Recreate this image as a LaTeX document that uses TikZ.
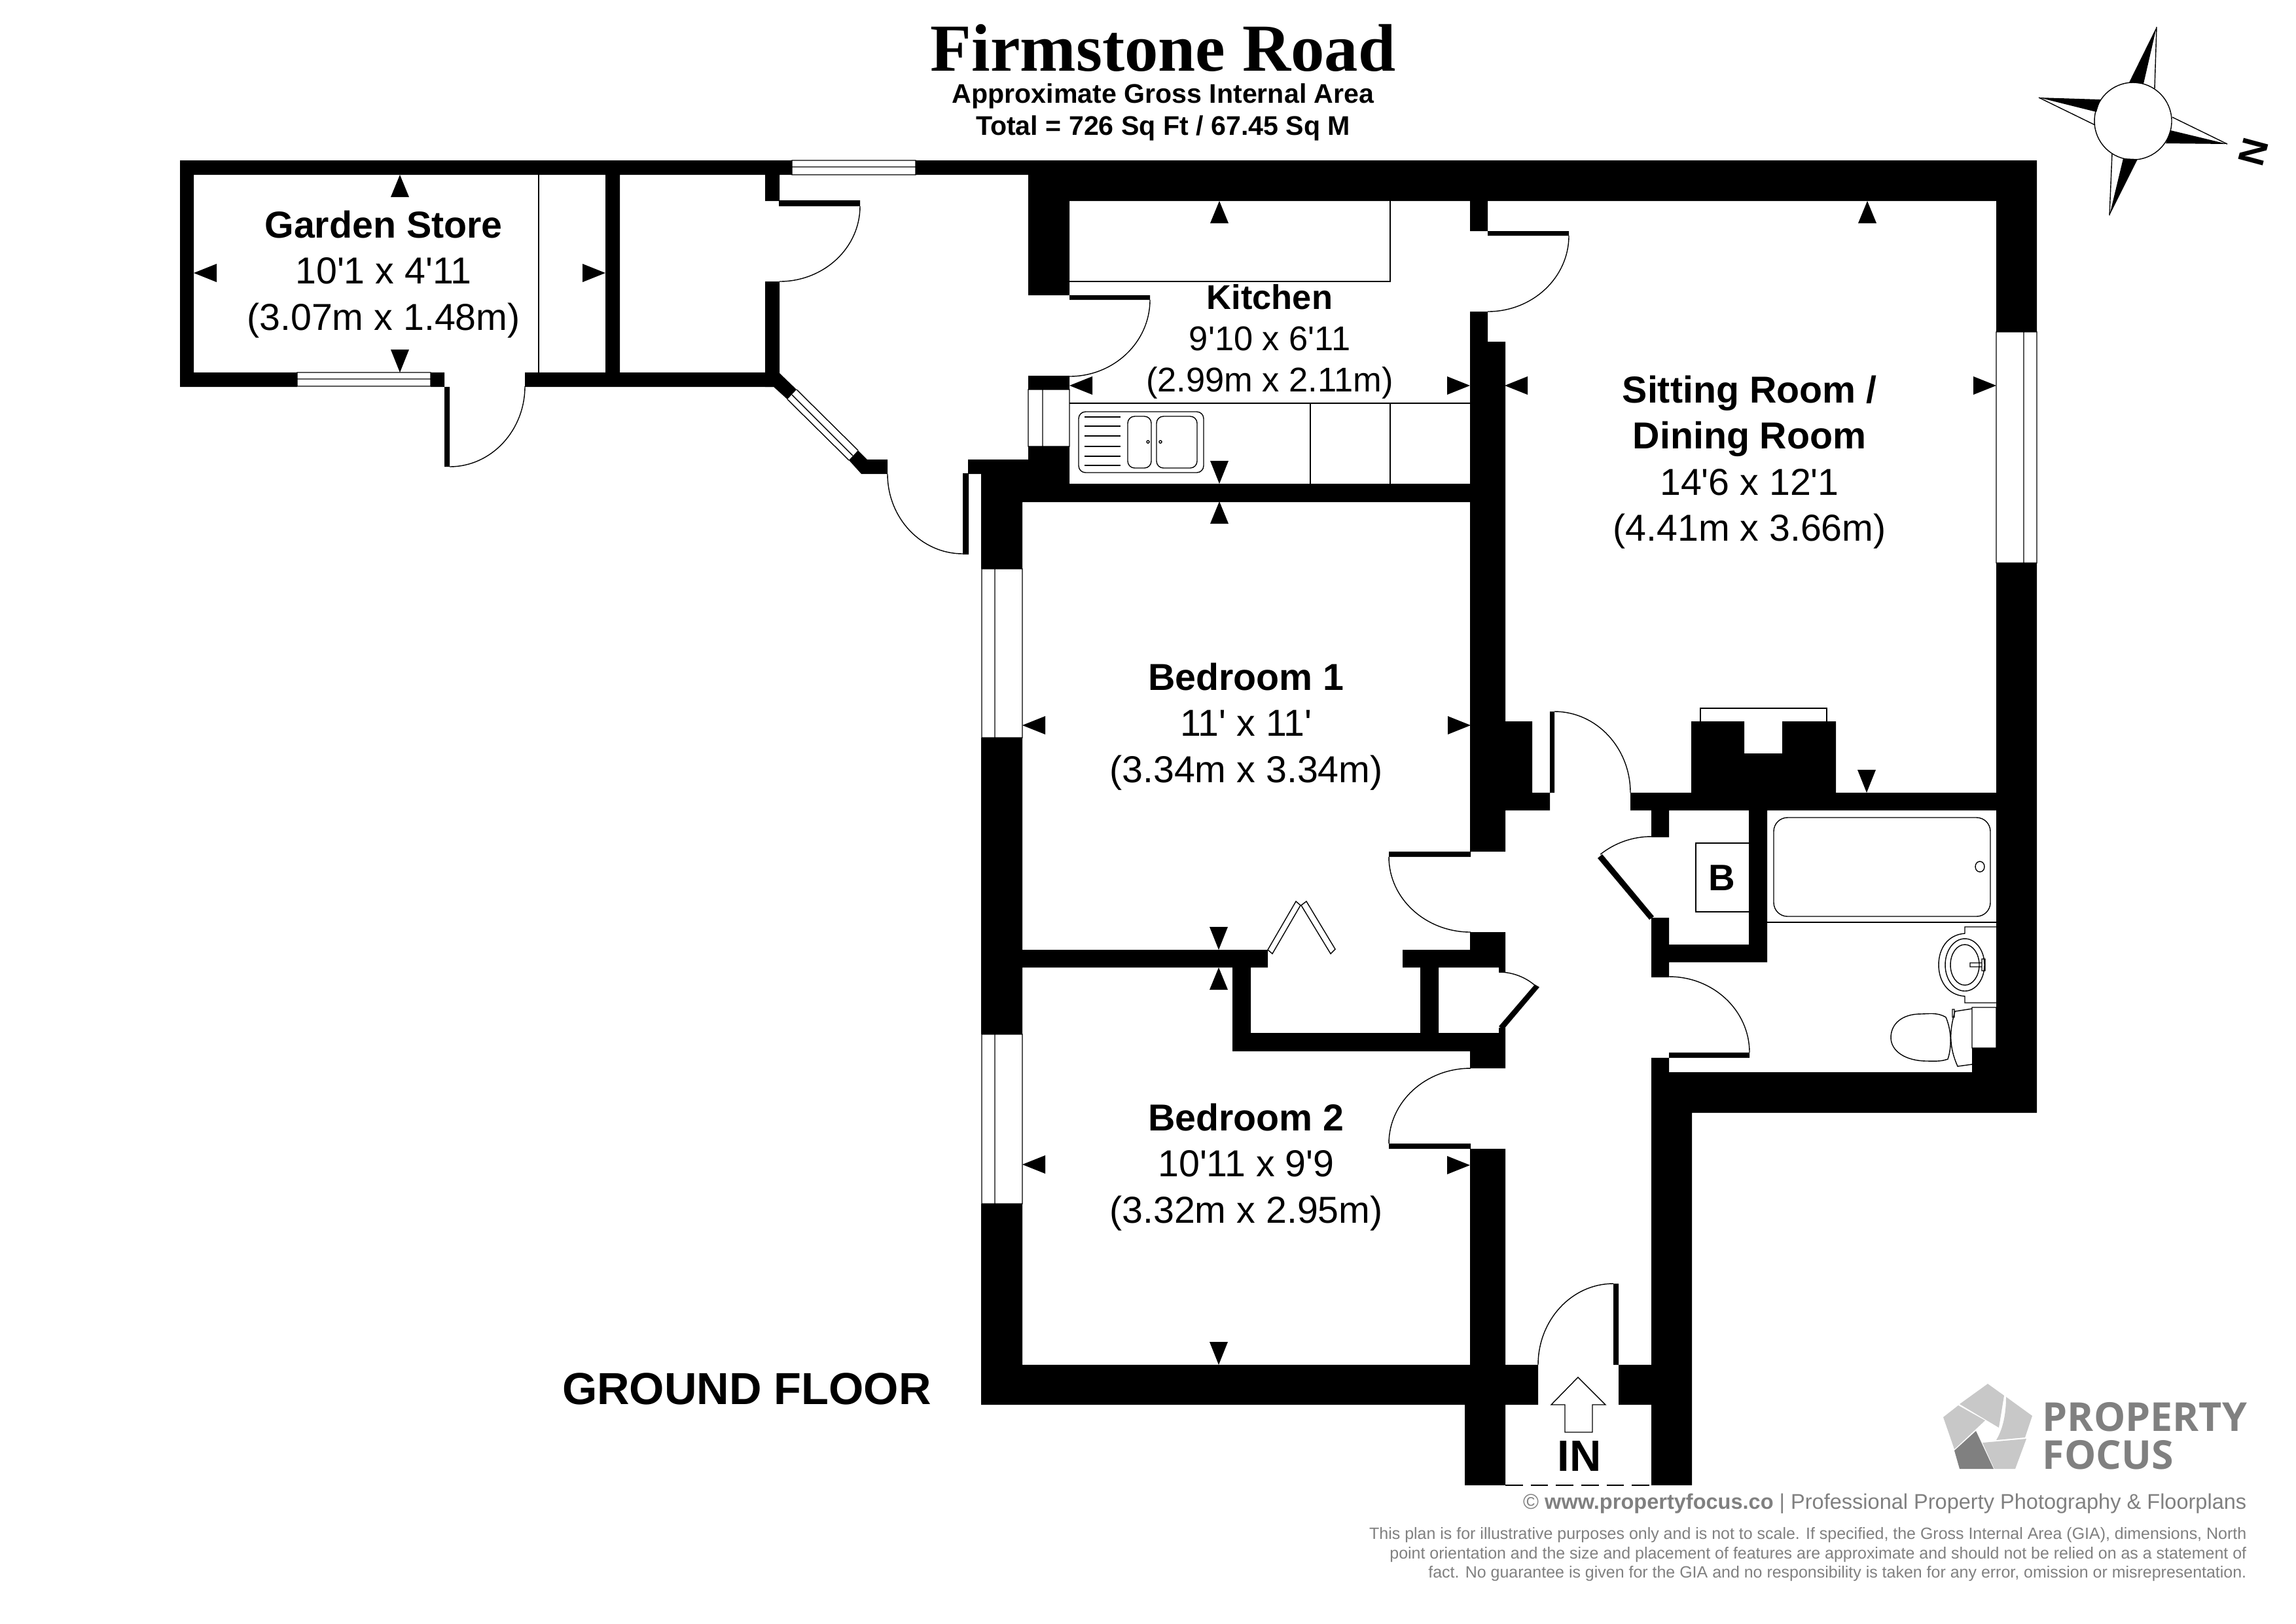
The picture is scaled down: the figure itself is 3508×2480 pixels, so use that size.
\documentclass[tikz,border=0pt]{standalone}
\usepackage{fontspec}
\setmainfont{Liberation Sans}
\newfontfamily\titlefont{Liberation Serif}
\newfontfamily\logofont{Open Sans}
\definecolor{logodark}{HTML}{808080}
\definecolor{logolight}{HTML}{C8C8C8}
\newcommand{\fsize}[2]{\fontsize{#1}{#2}\selectfont}
\newcommand{\ft}{\textquotesingle}
\begin{document}
\begin{tikzpicture}[x=0.01cm,y=-0.01cm,thin,
room/.style={align=center,font=\fsize{16.3}{20}},
plain/.style={anchor=base,inner sep=0pt},
foot/.style={plain,anchor=base east,text=logodark}]
\useasboundingbox (0,0) rectangle (3508,2480);
\fill (275,245) rectangle (1210,267) (1399,245) rectangle (3112,267) (1571,267) rectangle (3112,307)
(275,245) rectangle (296,591) (275,569) rectangle (454,591) (658,569) rectangle (679,591) (802,569) rectangle (1182,591)
(925,267) rectangle (947,569) (1169,267) rectangle (1191,307) (1169,430) rectangle (1191,570)
(1190,306) rectangle (1314,315) (679,591) rectangle (687,713) (1471,723) rectangle (1480,847);
\fill (1191,570)--(1217,595)--(1203,610)--(1182,591)--(1169,591)--(1169,570)--cycle;
\fill (1311,688)--(1325,702)--(1356,702)--(1356,724)--(1316,724)--(1297,703)--cycle;
\fill (1571,682)--(1634,682)--(1634,739)--(2246,739)--(2246,767)--(1562,767)--(1562,869)--(1499,869)--(1499,724)--(1479,724)--(1479,702)--(1571,702)--cycle;
\fill (1571,307) rectangle (1634,451) (1634,451) rectangle (1757,458) (1571,574) rectangle (1634,595)
(2246,307) rectangle (2273,353) (2273,353) rectangle (2397,360) (2246,476) rectangle (2273,522) (2246,522) rectangle (2300,1301)
(3050,307) rectangle (3112,507) (3050,860) rectangle (3112,1700)
(1499,1127) rectangle (1562,1580) (1499,1839) rectangle (1562,2146)
(1562,1451) rectangle (1937,1478) (2143,1451) rectangle (2246,1478) (1883,1478) rectangle (1911,1606)
(1883,1578) rectangle (2246,1606) (2170,1478) rectangle (2198,1578)
(2122,1301) rectangle (2247,1309) (2246,1424) rectangle (2300,1478) (2290,1478) rectangle (2300,1485)
(2290,1570) rectangle (2300,1578) (2246,1578) rectangle (2300,1632) (2122,1747) rectangle (2247,1755)
(2246,1755) rectangle (2300,2085) (1499,2085) rectangle (2350,2146) (2238,2146) rectangle (2300,2269)
(2465,1961) rectangle (2473,2085) (2473,2085) rectangle (2585,2146) (2523,1616) rectangle (2550,1700)
(2523,1638) rectangle (3112,1700) (2523,1700) rectangle (2585,2269) (3013,1601) rectangle (3050,1638)
(2299,1102) rectangle (2341,1238) (2299,1211) rectangle (2368,1238) (2368,1087) rectangle (2375,1211)
(2491,1211) rectangle (3050,1238) (2523,1238) rectangle (2550,1279) (2523,1402) rectangle (2550,1493)
(2550,1443) rectangle (2700,1470) (2672,1238) rectangle (2700,1470) (2550,1608) rectangle (2673,1616);
\fill (2584,1211)--(2584,1102)--(2665,1102)--(2665,1151)--(2723,1151)--(2723,1102)--(2805,1102)--(2805,1211)--cycle;
\fill (2441,1311)--(2448,1305)--(2527,1400)--(2520,1405)--cycle;
\fill (2345,1504)--(2352,1508)--(2297,1573)--(2290,1568)--cycle;
\draw (454,569) rectangle (658,590) (454,579)--(658,579)
(1210,245) rectangle (1399,267) (1210,255)--(1399,255)
(1571,595) rectangle (1634,682) (1593,595)--(1593,682)
(1500,869) rectangle (1562,1127) (1520,869)--(1520,1127)
(1500,1580) rectangle (1562,1839) (1520,1580)--(1520,1839)
(3050,507) rectangle (3112,860) (3092,507)--(3092,860)
(1217,595)--(1311,688) (1203,610)--(1297,703) (1210,603)--(1303,696);
\draw (687,713) arc[start angle=90,end angle=0,x radius=115,y radius=123];
\draw (1314,315) arc[start angle=0,end angle=90,x radius=123,y radius=115];
\draw (1356,724) arc[start angle=180,end angle=90,x radius=115,y radius=122];
\draw (1757,458) arc[start angle=0,end angle=90,x radius=123,y radius=117];
\draw (2397,360) arc[start angle=0,end angle=90,x radius=124,y radius=116];
\draw (2375,1087) arc[start angle=-90,end angle=0,x radius=116,y radius=124];
\draw (2122,1309) arc[start angle=180,end angle=90,x radius=125,y radius=115];
\draw (2247,1632) arc[start angle=-90,end angle=-180,x radius=125,y radius=115];
\draw (2523,1278) arc[start angle=-90,end angle=-128.5,radius=125];
\draw (2290,1485) arc[start angle=-90,end angle=-48,radius=85];
\draw (2465,1961) arc[start angle=-90,end angle=-180,x radius=115,y radius=124];
\draw (2550,1492) arc[start angle=-90,end angle=0,x radius=123,y radius=116];
\draw (823,267)--(823,569) (1634,430)--(2124,430)--(2124,307) (1634,616)--(2246,616)
(2002,616)--(2002,739) (2124,616)--(2124,739) (2700,1409)--(3050,1409)
(2598,1102)--(2598,1082)--(2791,1082)--(2791,1102) (2672,1288)--(2591,1288)--(2591,1393)--(2672,1393);
\draw (1937,1451)--(1944,1457)--(1987,1383)--(1980,1377)--cycle (1988,1383)--(1996,1377)--(2040,1450)--(2033,1457)--cycle;
\draw[rounded corners=3pt] (1648,629) rectangle (1839,722) (1723,636) rectangle (1759,715) (1767,636) rectangle (1829,715);
\foreach \y in {637,651,666,682,697,711} \draw (1657,\y)--(1712,\y);
\draw (1754,675) circle (2) (1773,675) circle (2);
\draw[rounded corners=6pt] (2710,1249) rectangle (3041,1400);
\draw (3025,1324) ellipse (7 and 8);
\draw (3050,1416)--(3002,1416)--(3002,1426) .. controls (2975,1428) and (2962,1450) .. (2962,1474) .. controls (2962,1498) and (2975,1520) .. (3002,1522)--(3002,1532)--(3050,1532);
\draw (3002,1474) ellipse (30 and 40) (3002,1474) ellipse (22 and 31) (3010,1471) rectangle (3028,1477) (3028,1465) rectangle (3033,1483);
\draw (3013,1539) rectangle (3050,1601) (3013,1541)--(2987,1545) .. controls (2978,1575) and (2978,1600) .. (2991,1629)--(3013,1626)
(2983,1542) rectangle (2986,1554);
\draw (2973,1554) .. controls (2960,1546) and (2945,1549) .. (2935,1549) .. controls (2905,1549) and (2889,1565) .. (2889,1585) .. controls (2889,1605) and (2910,1621) .. (2945,1621) .. controls (2955,1621) and (2965,1622) .. (2976,1618) .. controls (2982,1600) and (2982,1575) .. (2973,1554);
\draw (2391,2188)--(2391,2146)--(2370,2146)--(2411,2104)--(2453,2146)--(2433,2146)--(2433,2188)--cycle;
\draw[dash pattern=on 7.6pt off 3.4pt] (2300,2269)--(2523,2269);
\foreach \x/\y in {611/267,1863/307,2853/307,1863/766,1862/1478}
\fill (\x,\y)--++(-14,34)--++(28,0)--cycle;
\foreach \x/\y in {611/569,1863/739,2852/1211,1862/1451,1862/2085}
\fill (\x,\y)--++(-14,-35)--++(28,0)--cycle;
\foreach \x/\y in {296/417,1634/589,2299/589,1562/1108,1562/1779}
\fill (\x,\y)--++(35,-14)--++(0,28)--cycle;
\foreach \x/\y in {925/417,2246/589,3050/589,2247/1108,2246/1780}
\fill (\x,\y)--++(-35,-14)--++(0,28)--cycle;
\draw (3259,185) circle (59);
\fill (3295,41)--(3253,126)--(3275,128)--cycle (3115,149)--(3209,152)--(3203,171)--cycle
(3403,220)--(3316,199)--(3309,219)--cycle (3223,329)--(3244,242)--(3266,243)--cycle;
\draw (3295,41)--(3292,135) (3115,149)--(3201,191) (3403,220)--(3319,179) (3223,329)--(3227,234);
\fill[logolight] (3037,2114)--(3062,2132)--(3054,2181)--(2994,2145)--cycle (3065,2134)--(3105,2163)--(3094,2196)--(3050,2200) .. controls (3062,2180) and (3065,2155) .. (3065,2134)
(2992,2147)--(3033,2170)--(2986,2214)--(2969,2165)--cycle (3029,2204)--(3096,2198)--(3079,2244)--(3047,2244)--cycle;
\fill[logodark] (3019,2186)--(3046,2244)--(2994,2244)--(2986,2216)--cycle;
\node[plain,font=\titlefont\bfseries\fsize{29.2}{32}] (title) at (1777,108) {Firmstone Road};
\node[plain,font=\bfseries\fsize{11.7}{14}] (area) at (1777,157) {Approximate Gross Internal Area};
\node[plain,font=\bfseries\fsize{11.7}{14}] (total) at (1777,206) {Total = 726 Sq Ft / 67.45 Sq M};
\node[room] (garden) at (586,419) {\textbf{Garden Store}\\10\ft1 x 4\ft11\\(3.07m x 1.48m)};
\node[room,font=\fsize{14.9}{18}] (kitchen) at (1940,522) {\textbf{Kitchen}\\9\ft10 x 6\ft11\\(2.99m x 2.11m)};
\node[room] (sitting) at (2673,706) {\textbf{Sitting Room /}\\\textbf{Dining Room}\\14\ft6 x 12\ft1\\(4.41m x 3.66m)};
\node[room] (bedone) at (1904,1110) {\textbf{Bedroom 1}\\11\ft{} x 11\ft\\(3.34m x 3.34m)};
\node[room] (bedtwo) at (1904,1783) {\textbf{Bedroom 2}\\10\ft11 x 9\ft9\\(3.32m x 2.95m)};
\node[font=\bfseries\fsize{19.5}{22}] (ground) at (1141,2122) {GROUND FLOOR};
\node[font=\bfseries\fsize{16}{18}] (boiler) at (2631,1341) {B};
\node[font=\bfseries\fsize{19}{22}] (entry) at (2413,2224) {IN};
\node[font=\bfseries\fsize{16}{18},rotate=-105] (north) at (3443,232) {N};
\node[plain,anchor=base west,text=logodark,font=\logofont\bfseries\fsize{17.3}{20}] (logoa) at (3120,2186) {PROPERTY};
\node[plain,anchor=base west,text=logodark,font=\logofont\bfseries\fsize{17.3}{20}] (logob) at (3120,2244) {FOCUS};
\node[foot,font=\fsize{9.25}{11}] (web) at (3433,2305) {\textcopyright{} \textbf{www.propertyfocus.co} | Professional Property Photography \& Floorplans};
\node[foot,font=\fsize{7.1}{9}] (noteone) at (3433,2351) {This plan is for illustrative purposes only and is not to scale. If specified, the Gross Internal Area (GIA), dimensions, North};
\node[foot,font=\fsize{7.1}{9}] (notetwo) at (3433,2381) {point orientation and the size and placement of features are approximate and should not be relied on as a statement of};
\node[foot,font=\fsize{7.1}{9}] (notethree) at (3433,2410) {fact. No guarantee is given for the GIA and no responsibility is taken for any error, omission or misrepresentation.};
\end{tikzpicture}
\end{document}
